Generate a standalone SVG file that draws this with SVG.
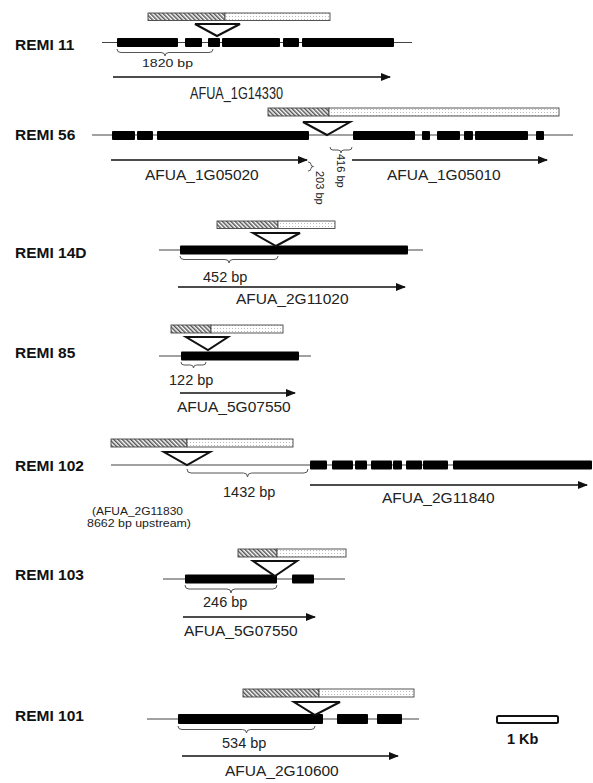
<svg xmlns="http://www.w3.org/2000/svg" width="593" height="783" viewBox="0 0 593 783">
<defs>
<pattern id="hatch" width="3" height="3" patternUnits="userSpaceOnUse" patternTransform="rotate(-45)">
<rect width="3" height="3" fill="#fff"/><line x1="0.75" y1="0" x2="0.75" y2="3" stroke="#555" stroke-width="1.5"/>
</pattern>
<pattern id="dots" width="3" height="3" patternUnits="userSpaceOnUse">
<rect width="3" height="3" fill="#fff"/><rect x="1" y="1" width="1" height="1" fill="#bbb"/>
</pattern>
<marker id="arr" markerWidth="10" markerHeight="8" refX="9" refY="4" orient="auto" markerUnits="userSpaceOnUse">
<path d="M0,0 L10,4 L0,8 z" fill="#111"/>
</marker>
</defs>
<style>
.lbl{font-family:"Liberation Sans",Arial,sans-serif;font-weight:bold;font-size:15.5px;fill:#111}
.gene{font-family:"Liberation Sans",Arial,sans-serif;font-size:15.5px;fill:#222}
.bp{font-family:"Liberation Sans",Arial,sans-serif;font-size:14.5px;fill:#222}
.sm{font-family:"Liberation Sans",Arial,sans-serif;font-size:11px;fill:#222}
.up{font-family:"Liberation Sans",Arial,sans-serif;font-size:11px;fill:#222}
.hat{fill:url(#hatch);stroke:#444;stroke-width:0.9}
.dot{fill:url(#dots);stroke:#444;stroke-width:0.9}
.tri{fill:#fff;stroke:#111;stroke-width:2;stroke-linejoin:miter}
.dna{stroke:#444;stroke-width:1.2;fill:none}
.ex{fill:#000}
.brace{fill:none;stroke:#555;stroke-width:1}
.arrow{stroke:#111;stroke-width:1.3;fill:none;marker-end:url(#arr)}
.scale{fill:#fff;stroke:#111;stroke-width:2}
</style>

<g id="remi11">
<text class="lbl" x="15" y="50">REMI 11</text>
<rect class="hat" x="148" y="13" width="77" height="7.5"/>
<rect class="dot" x="225" y="13" width="105" height="7.5"/>
<line class="dna" x1="102" y1="42.5" x2="412" y2="42.5"/>
<rect class="ex" x="117" y="38" width="61" height="9" rx="1"/>
<rect class="ex" x="185" y="38" width="17" height="9" rx="1"/>
<rect class="ex" x="208" y="38" width="12" height="9" rx="1"/>
<rect class="ex" x="222" y="38" width="58" height="9" rx="1"/>
<rect class="ex" x="283" y="38" width="16" height="9" rx="1"/>
<rect class="ex" x="302" y="38" width="92" height="9" rx="1"/>
<polygon class="tri" points="195,24 240,24 217,36"/>
<path class="brace" d="M117,49 Q117,52.5 121,52.5 L161,52.5 Q165,52.5 165,56 Q165,52.5 169,52.5 L209,52.5 Q213,52.5 213,49"/>
<text class="bp" x="142" y="66.5" style="font-size:11px" textLength="51" lengthAdjust="spacingAndGlyphs">1820 bp</text>
<line class="arrow" x1="113" y1="77" x2="390" y2="77"/>
<text class="gene" x="190" y="98.5" style="font-size:16px" textLength="93" lengthAdjust="spacingAndGlyphs">AFUA_1G14330</text>
</g>

<g id="remi56">
<text class="lbl" x="15" y="140">REMI 56</text>
<rect class="hat" x="268" y="108" width="61" height="8"/>
<rect class="dot" x="329" y="108" width="230" height="8"/>
<line class="dna" x1="92" y1="135" x2="573" y2="135"/>
<rect class="ex" x="112" y="131" width="23" height="9" rx="1"/>
<rect class="ex" x="137" y="131" width="16" height="9" rx="1"/>
<rect class="ex" x="157" y="131" width="152" height="9" rx="1"/>
<rect class="ex" x="353" y="131" width="62" height="9" rx="1"/>
<rect class="ex" x="422" y="131" width="8" height="9" rx="1"/>
<rect class="ex" x="437" y="131" width="23" height="9" rx="1"/>
<rect class="ex" x="464" y="131" width="9" height="9" rx="1"/>
<rect class="ex" x="475" y="131" width="53" height="9" rx="1"/>
<rect class="ex" x="536" y="131" width="8" height="9" rx="1"/>
<polygon class="tri" points="303,122 350,122 327,135"/>
<line class="arrow" x1="111" y1="160" x2="307" y2="160"/>
<line class="arrow" x1="352" y1="160" x2="547" y2="160"/>
<text class="gene" x="145" y="180">AFUA_1G05020</text>
<text class="gene" x="387" y="180">AFUA_1G05010</text>
<path class="brace" d="M330,147 Q330,150 333,150 L338,150 Q341,150 341,153 Q341,150 344,150 L349,150 Q352,150 352,147"/>
<text class="sm" transform="translate(336.5,154) rotate(90)">416 bp</text>
<path class="brace" d="M308,162 Q311,162 311,164.5 Q311,166.5 313.5,166.5 Q311,166.5 311,168.5 Q311,171 308,171"/>
<text class="sm" transform="translate(315.5,171) rotate(90)">203 bp</text>
</g>

<g id="remi14d">
<text class="lbl" x="15" y="258">REMI 14D</text>
<rect class="hat" x="217" y="221" width="61" height="7.5"/>
<rect class="dot" x="278" y="221" width="57" height="7.5"/>
<line class="dna" x1="159" y1="250" x2="423" y2="250"/>
<rect class="ex" x="180" y="245.5" width="228" height="9" rx="1"/>
<polygon class="tri" points="253,233 300,233 276,246"/>
<path class="brace" d="M180,256 Q180,259.5 184,259.5 L225,259.5 Q229,259.5 229,263 Q229,259.5 233,259.5 L274,259.5 Q278,259.5 278,256"/>
<text class="bp" x="203" y="282">452 bp</text>
<line class="arrow" x1="178" y1="287" x2="405" y2="287"/>
<text class="gene" x="236" y="304">AFUA_2G11020</text>
</g>

<g id="remi85">
<text class="lbl" x="15" y="358">REMI 85</text>
<rect class="hat" x="171" y="325" width="40" height="8"/>
<rect class="dot" x="211" y="325" width="72" height="8"/>
<line class="dna" x1="159" y1="356" x2="311" y2="356"/>
<rect class="ex" x="181" y="351.5" width="118" height="9" rx="1"/>
<polygon class="tri" points="186,337 228,337 208,350"/>
<path class="brace" d="M181,362 Q181,365 184,365 L190.5,365 Q193.5,365 193.5,368 Q193.5,365 196.5,365 L203,365 Q206,365 206,362"/>
<text class="bp" x="169" y="385">122 bp</text>
<line class="arrow" x1="180" y1="393" x2="295" y2="393"/>
<text class="gene" x="177" y="412">AFUA_5G07550</text>
</g>

<g id="remi102">
<text class="lbl" x="15" y="471">REMI 102</text>
<rect class="hat" x="111" y="439" width="76" height="8"/>
<rect class="dot" x="187" y="439" width="106" height="8"/>
<line class="dna" x1="111" y1="465" x2="590" y2="465"/>
<rect class="ex" x="310" y="460.5" width="17" height="9" rx="1"/>
<rect class="ex" x="332" y="460.5" width="21" height="9" rx="1"/>
<rect class="ex" x="355" y="460.5" width="12" height="9" rx="1"/>
<rect class="ex" x="371" y="460.5" width="21" height="9" rx="1"/>
<rect class="ex" x="393" y="460.5" width="9" height="9" rx="1"/>
<rect class="ex" x="406" y="460.5" width="16" height="9" rx="1"/>
<rect class="ex" x="423" y="460.5" width="25" height="9" rx="1"/>
<rect class="ex" x="453" y="460.5" width="139" height="9" rx="1"/>
<polygon class="tri" points="164,452 210,452 187,465"/>
<path class="brace" d="M187,469 Q187,473 191,473 L243.5,473 Q247.5,473 247.5,477 Q247.5,473 251.5,473 L304,473 Q308,473 308,469"/>
<text class="bp" x="223" y="497">1432 bp</text>
<line class="arrow" x1="310" y1="485" x2="587" y2="485"/>
<text class="gene" x="382" y="503">AFUA_2G11840</text>
<text class="up" x="92" y="515" textLength="91" lengthAdjust="spacingAndGlyphs">(AFUA_2G11830</text>
<text class="up" x="87" y="526.5" textLength="104" lengthAdjust="spacingAndGlyphs">8662 bp upstream)</text>
</g>

<g id="remi103">
<text class="lbl" x="15" y="580">REMI 103</text>
<rect class="hat" x="238" y="549" width="39" height="8"/>
<rect class="dot" x="277" y="549" width="69" height="8"/>
<line class="dna" x1="163" y1="579" x2="345" y2="579"/>
<rect class="ex" x="185" y="574.5" width="92" height="9" rx="1"/>
<rect class="ex" x="292" y="574.5" width="22" height="9" rx="1"/>
<polygon class="tri" points="253,561 297,561 275,576"/>
<path class="brace" d="M185,585 Q185,589 189,589 L227,589 Q231,589 231,593 Q231,589 235,589 L273,589 Q277,589 277,585"/>
<text class="bp" x="203" y="607">246 bp</text>
<line class="arrow" x1="183" y1="617" x2="315" y2="617"/>
<text class="gene" x="184" y="636">AFUA_5G07550</text>
</g>

<g id="remi101">
<text class="lbl" x="15" y="721">REMI 101</text>
<rect class="hat" x="243" y="689" width="76" height="8"/>
<rect class="dot" x="319" y="689" width="95" height="8"/>
<line class="dna" x1="147" y1="719" x2="419" y2="719"/>
<rect class="ex" x="178" y="714" width="145" height="10" rx="1"/>
<rect class="ex" x="337" y="714" width="31" height="10" rx="1"/>
<rect class="ex" x="377" y="714" width="25" height="10" rx="1"/>
<polygon class="tri" points="294,702 340,702 315,715"/>
<path class="brace" d="M178,726 Q178,729.5 182,729.5 L242.5,729.5 Q246.5,729.5 246.5,733 Q246.5,729.5 250.5,729.5 L311,729.5 Q315,729.5 315,726"/>
<text class="bp" x="222" y="748">534 bp</text>
<line class="arrow" x1="182" y1="756" x2="398" y2="756"/>
<text class="gene" x="225" y="776">AFUA_2G10600</text>
</g>

<g id="scalebar">
<rect class="scale" x="497" y="716" width="61" height="7" rx="1.5"/>
<text class="lbl" x="507" y="744" style="font-size:14.5px">1 Kb</text>
</g>
</svg>
